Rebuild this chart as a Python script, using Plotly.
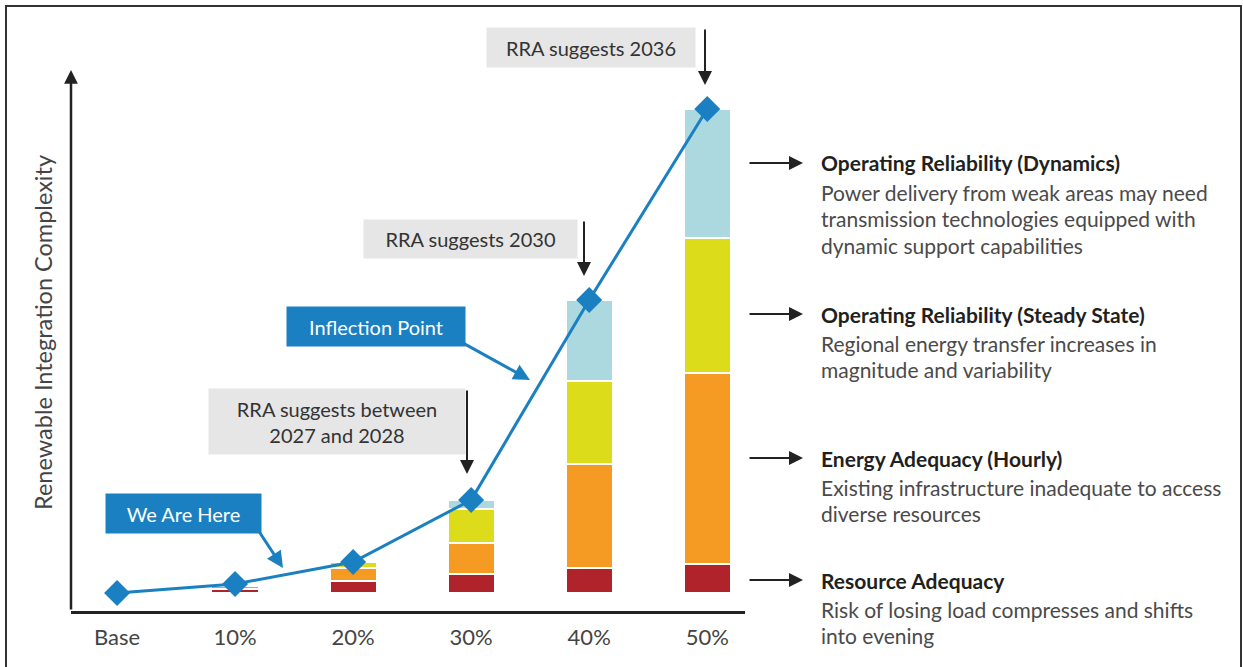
import plotly.graph_objects as go

# Datos del gráfico
categorias = ["Base", "10%", "20%", "30%", "40%", "50%"]
resource_adequacy = [0, 4, 12, 18.7, 24.7, 28.7]
energy_adequacy = [0, 3.5, 12.7, 31, 104.3, 191]
steady_state = [0, 0, 6.3, 34.5, 83, 135.3]
dynamics = [0, 0, 0, 8.8, 81, 129]
complejidad = [0, 9, 31, 93, 293, 484]

colores = {
    "Resource Adequacy": "#b0232b",
    "Energy Adequacy (Hourly)": "#f59b23",
    "Operating Reliability (Steady State)": "#dcdc1a",
    "Operating Reliability (Dynamics)": "#acd8e0",
}
azul = "#1b80c2"

titulos = [
    "Operating Reliability (Dynamics)",
    "Operating Reliability (Steady State)",
    "Energy Adequacy (Hourly)",
    "Resource Adequacy",
]
descripciones = [
    ["Power delivery from weak areas may need",
     "transmission technologies equipped with",
     "dynamic support capabilities"],
    ["Regional energy transfer increases in",
     "magnitude and variability"],
    ["Existing infrastructure inadequate to access",
     "diverse resources"],
    ["Risk of losing load compresses and shifts",
     "into evening"],
]

# Geometría de la figura (píxeles)
W, H = 1243, 667
L, R, T, B = 71, 745, 70, 611

def px(x):
    return (x - L) / (R - L)

def py(y):
    return (B - y) / (B - T)

FONT = "Lato, sans-serif"

fig = go.Figure()
series = [
    ("Resource Adequacy", resource_adequacy),
    ("Energy Adequacy (Hourly)", energy_adequacy),
    ("Operating Reliability (Steady State)", steady_state),
    ("Operating Reliability (Dynamics)", dynamics),
]
for nombre, vals in series:
    fig.add_trace(go.Bar(
        x=categorias[1:], y=vals[1:], name=nombre,
        marker=dict(color=colores[nombre], line=dict(color="white", width=2)),
        width=0.40,
    ))

fig.add_trace(go.Scatter(
    x=categorias, y=complejidad, mode="lines+markers",
    line=dict(color=azul, width=3),
    marker=dict(symbol="diamond", size=20, color=azul),
    name="Complexity",
))

anns = []

# Eje y con flecha
anns.append(dict(xref="paper", yref="paper", x=0, y=1, ax=0, ay=B - T,
                 text="", showarrow=True, arrowhead=2, arrowsize=1.1,
                 arrowwidth=2.5, arrowcolor="#222", standoff=0))
anns.append(dict(xref="paper", yref="paper", x=px(43), y=py(333),
                 xanchor="center", yanchor="middle",
                 text="Renewable Integration Complexity", textangle=-90,
                 showarrow=False, font=dict(family=FONT, size=23.5, color="#444")))

# Cajas grises con flechas negras
cajas = [
    ("RRA suggests 2036", 591, 47.5, 208, 39, 705, 28, 85),
    ("RRA suggests 2030", 470.5, 239, 213, 38, 584, 220, 276),
    ("RRA suggests between<br>2027 and 2028", 337, 421.5, 256, 65, 467, 389, 474),
]
for txt, cx, cy, w, h, ax_x, y0, y1 in cajas:
    anns.append(dict(xref="paper", yref="paper", x=px(cx), y=py(cy),
                     xanchor="center", yanchor="middle",
                     text=txt, showarrow=False, width=w, height=h,
                     bgcolor="#e6e6e6", borderpad=0,
                     font=dict(family=FONT, size=20, color="#333")))
    anns.append(dict(xref="paper", yref="paper", x=px(ax_x), y=py(y1),
                     ax=0, ay=-(y1 - y0), text="", showarrow=True,
                     arrowhead=2, arrowsize=1.4, arrowwidth=2,
                     arrowcolor="#222", standoff=0))

# Cajas azules
azules = [
    ("Inflection Point", 376, 326.5, 178, 39, (463, 343), (530, 380)),
    ("We Are Here", 183.5, 513.5, 155, 39, (258, 530), (283, 568)),
]
for txt, cx, cy, w, h, cola, punta in azules:
    anns.append(dict(xref="paper", yref="paper", x=px(punta[0]), y=py(punta[1]),
                     ax=cola[0] - punta[0], ay=cola[1] - punta[1], text="",
                     showarrow=True, arrowhead=2, arrowsize=1.1, arrowwidth=3,
                     arrowcolor=azul, standoff=0))
    anns.append(dict(xref="paper", yref="paper", x=px(cx), y=py(cy),
                     xanchor="center", yanchor="middle",
                     text=txt, showarrow=False, width=w, height=h,
                     bgcolor=azul, borderpad=0,
                     font=dict(family=FONT, size=20, color="white")))

# Texto lateral
ys_titulo = [163, 314, 458, 580]
for tit, desc, yt in zip(titulos, descripciones, ys_titulo):
    anns.append(dict(xref="paper", yref="paper", x=px(803), y=py(yt),
                     ax=-55, ay=0, text="", showarrow=True, arrowhead=2,
                     arrowsize=1.4, arrowwidth=2, arrowcolor="#222", standoff=0))
    anns.append(dict(xref="paper", yref="paper", x=px(819), y=py(yt),
                     xanchor="left", yanchor="middle", text="<b>" + tit + "</b>",
                     showarrow=False, font=dict(family=FONT, size=21, color="#231f20")))
    for i, linea in enumerate(desc):
        anns.append(dict(xref="paper", yref="paper", x=px(819), y=py(yt + 29.5 + 26.3 * i),
                         xanchor="left", yanchor="middle", text=linea,
                         showarrow=False, font=dict(family=FONT, size=21, color="#4a4a4a")))

fig.update_layout(
    width=W, height=H,
    margin=dict(l=L, r=W - R, t=T, b=H - B),
    barmode="stack", showlegend=False,
    plot_bgcolor="white", paper_bgcolor="white",
    annotations=anns,
    shapes=[dict(type="rect", xref="paper", yref="paper",
                 x0=px(6), x1=px(1241), y0=py(700), y1=py(6),
                 line=dict(color="#333", width=2))],
)
fig.update_xaxes(range=[-0.39, 5.32], categoryorder="array", categoryarray=categorias,
                 showline=True, linecolor="#222", linewidth=3,
                 showgrid=False, ticks="outside", ticklen=5, tickcolor="white",
                 tickfont=dict(family=FONT, size=22, color="#444"))
fig.update_yaxes(range=[-18, 523], showline=False, showgrid=False, zeroline=False,
                 showticklabels=False)

fig.write_html("out.html", config={"displayModeBar": False},
               post_script="document.body.style.margin='0';")
